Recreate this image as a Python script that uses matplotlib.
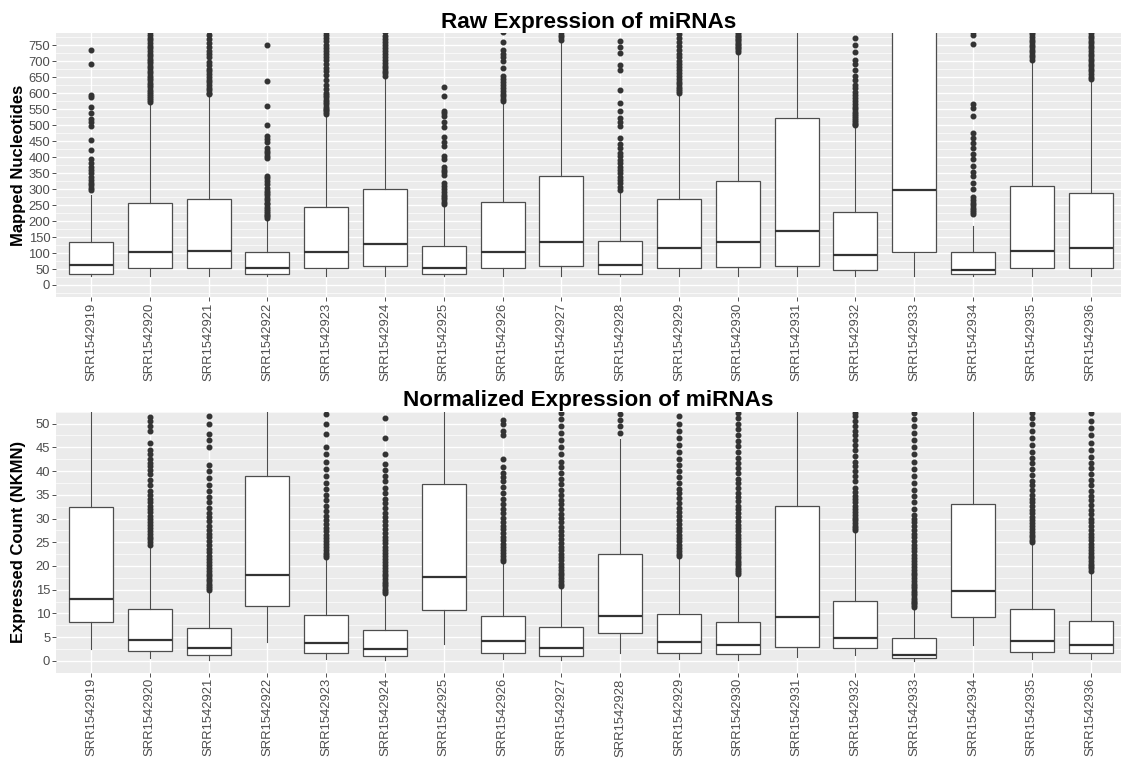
import matplotlib
matplotlib.use("Agg")
import matplotlib.pyplot as plt
from matplotlib.ticker import MultipleLocator

plt.rcParams['font.family'] = ['Liberation Sans', 'DejaVu Sans']

samples = ['SRR1542919', 'SRR1542920', 'SRR1542921', 'SRR1542922', 'SRR1542923', 'SRR1542924',
           'SRR1542925', 'SRR1542926', 'SRR1542927', 'SRR1542928', 'SRR1542929', 'SRR1542930',
           'SRR1542931', 'SRR1542932', 'SRR1542933', 'SRR1542934', 'SRR1542935', 'SRR1542936']

# Raw expression (mapped nucleotides): box statistics
raw_q1 = [34, 52, 52, 34, 52, 60, 34, 52, 58, 34, 52, 57, 60, 46, 104, 34, 52, 52]
raw_med = [62, 102, 105, 52, 102, 129, 52, 102, 136, 62, 117, 133, 170, 94, 297, 46, 107, 115]
raw_q3 = [136, 258, 269, 103, 244, 299, 121, 261, 341, 137, 269, 326, 523, 227, 1000, 102, 310, 288]
raw_lo = [28, 28, 28, 28, 28, 28, 28, 28, 28, 28, 28, 28, 28, 28, 28, 28, 28, 28]
raw_hi = [283, 565, 591, 207, 528, 650, 244, 572, 765, 291, 596, 726, 1217, 497, 2000, 184, 702, 644]
raw_out = [
    [297, 302, 312, 320, 328, 339, 349, 360, 370, 381, 395, 421, 454, 497, 510, 518, 539, 556, 588, 594, 692, 734],
    [572, 578, 584, 590, 597, 603, 610, 618, 625, 632, 640, 648, 655, 662, 670, 678, 685, 693, 700, 708, 716,
     724, 731, 740, 748, 757, 765, 774, 782, 790, 800],
    [596, 602, 609, 617, 625, 634, 642, 651, 660, 668, 677, 688, 699, 712, 722, 733, 745, 757, 770, 783, 795],
    [210, 215, 220, 226, 232, 238, 245, 252, 258, 265, 272, 280, 288, 295, 302, 315, 325, 335, 342, 398, 405,
     412, 420, 428, 446, 458, 466, 500, 561, 637, 750],
    [535, 540, 546, 552, 558, 565, 572, 580, 587, 594, 600, 612, 625, 640, 656, 668, 680, 692, 703, 712, 722,
     732, 742, 752, 762, 772, 782, 792],
    [655, 662, 670, 678, 686, 695, 704, 713, 722, 731, 740, 750, 760, 770, 780, 790],
    [252, 260, 268, 275, 283, 290, 300, 310, 318, 345, 352, 360, 368, 395, 405, 435, 448, 462, 495, 510, 530,
     538, 545, 590, 618],
    [575, 582, 590, 598, 607, 615, 625, 635, 645, 655, 680, 700, 712, 722, 735, 760, 790],
    [768, 775, 782, 790],
    [297, 307, 318, 328, 339, 349, 360, 370, 381, 391, 402, 412, 428, 442, 460, 497, 509, 523, 544, 570, 610,
     673, 689, 725, 746, 762],
    [600, 606, 613, 620, 628, 636, 645, 654, 663, 672, 682, 692, 702, 713, 724, 736, 748, 760, 772, 784, 795],
    [730, 735, 740, 745, 750, 755, 760, 765, 770, 775, 780, 785, 790, 795],
    [],
    [500, 505, 510, 516, 522, 528, 535, 542, 550, 558, 566, 575, 584, 594, 605, 615, 625, 640, 655, 672, 690,
     705, 730, 752, 772],
    [],
    [222, 228, 235, 242, 250, 258, 266, 275, 300, 318, 340, 355, 372, 395, 410, 428, 445, 460, 474, 530, 555,
     567, 754, 783, 790],
    [705, 712, 720, 728, 736, 744, 752, 760, 768, 776, 784, 792],
    [645, 652, 660, 668, 676, 684, 692, 700, 708, 716, 724, 732, 740, 748, 756, 764, 772, 780, 788, 796],
]

# Normalized expression (NKMN)
norm_q1 = [8.1, 2.1, 1.3, 11.5, 1.75, 1.05, 10.7, 1.75, 1.1, 5.8, 1.75, 1.4, 3.0, 2.7, 0.6, 9.2, 1.9, 1.6]
norm_med = [13.1, 4.3, 2.7, 18.2, 3.8, 2.6, 17.7, 4.1, 2.7, 9.5, 3.9, 3.3, 9.3, 4.9, 1.3, 14.8, 4.1, 3.3]
norm_q3 = [32.5, 10.9, 6.9, 39.0, 9.6, 6.5, 37.2, 9.5, 7.1, 22.6, 9.9, 8.1, 32.6, 12.6, 4.8, 33.0, 11.0, 8.5]
norm_lo = [2.5, 0.5, 0.2, 3.9, 0.3, 0.1, 3.6, 0.3, 0.1, 1.6, 0.3, 0.2, 0.9, 1.2, 0.05, 3.4, 0.4, 0.3]
norm_hi = [69, 23.9, 14.9, 80, 21.5, 14.2, 76, 20.9, 15.6, 46.8, 21.8, 18.1, 67, 27.2, 11.1, 68, 24.8, 18.7]
norm_out = [
    [],
    [24.5, 25.0, 25.6, 26.2, 26.8, 27.4, 28.0, 28.6, 29.2, 29.9, 30.6, 31.3, 32.0, 32.7, 33.4, 34.2, 35.0, 35.8,
     37.0, 38.2, 39.3, 40.2, 41.0, 41.8, 42.6, 43.5, 44.5, 46.0, 48.5, 49.5, 50.5, 51.3],
    [15.0, 15.4, 15.8, 16.3, 16.8, 17.3, 17.8, 18.4, 19.0, 19.6, 20.2, 20.8, 21.5, 22.2, 22.9, 23.6, 24.4, 25.2,
     26.0, 26.8, 27.6, 28.5, 29.4, 30.3, 31.2, 32.2, 33.4, 34.6, 35.8, 37.0, 38.5, 40.0, 41.2, 45.0, 46.5, 47.8,
     50.0, 51.5],
    [],
    [21.8, 22.3, 22.8, 23.4, 24.0, 24.6, 25.2, 25.9, 26.6, 27.3, 28.0, 28.8, 29.6, 30.5, 31.5, 32.6, 33.8, 35.0,
     36.2, 37.4, 39.0, 40.5, 42.0, 43.5, 45.0, 47.8, 50.0, 52.0],
    [14.4, 14.8, 15.2, 15.7, 16.2, 16.7, 17.2, 17.8, 18.4, 19.0, 19.6, 20.2, 20.8, 21.4, 22.0, 22.7, 23.4, 24.1,
     24.8, 25.5, 26.2, 27.0, 27.8, 28.6, 29.4, 30.3, 31.2, 32.2, 33.2, 34.2, 35.3, 36.5, 37.8, 39.0, 40.2, 41.5,
     43.5, 47.0, 51.2],
    [],
    [21.0, 21.5, 22.1, 22.7, 23.3, 24.0, 24.7, 25.4, 26.1, 26.9, 27.7, 28.5, 29.3, 30.2, 31.1, 32.0, 33.0, 34.2,
     35.4, 36.6, 37.8, 38.8, 39.6, 40.8, 42.5, 47.5, 48.5, 50.0, 50.8],
    [15.8, 16.3, 16.8, 17.4, 18.0, 18.6, 19.2, 19.8, 20.5, 21.2, 21.9, 22.6, 23.3, 24.1, 24.9, 25.7, 26.5, 27.4,
     28.3, 29.2, 30.1, 31.0, 32.0, 33.0, 34.0, 35.0, 36.0, 37.2, 38.4, 39.6, 40.8, 42.0, 43.5, 45.0, 46.5, 48.0,
     49.5, 51.0, 52.3],
    [48.0, 49.5, 50.8, 52.0],
    [22.0, 22.6, 23.2, 23.8, 24.5, 25.2, 25.9, 26.6, 27.3, 28.1, 28.9, 29.7, 30.5, 31.4, 32.3, 33.3, 34.3, 35.3,
     36.3, 37.5, 38.7, 40.0, 41.2, 42.5, 44.0, 45.5, 47.0, 48.5, 50.0, 51.5],
    [18.3, 18.7, 19.1, 19.6, 20.1, 20.6, 21.1, 21.6, 22.2, 22.8, 23.4, 24.0, 24.6, 25.2, 25.9, 26.6, 27.3, 28.0,
     28.7, 29.5, 30.3, 31.1, 31.9, 32.7, 33.6, 34.5, 35.4, 36.4, 37.4, 38.4, 39.5, 40.6, 41.7, 42.8, 44.0, 45.2,
     46.4, 47.6, 48.8, 50.0, 51.2, 52.2],
    [],
    [27.5, 28.0, 28.5, 29.0, 29.6, 30.2, 30.8, 31.4, 32.0, 32.7, 33.4, 34.1, 34.8, 35.6, 36.5, 38.0, 39.0, 40.0,
     41.0, 42.0, 43.2, 44.5, 45.5, 46.5, 47.5, 48.5, 49.5, 50.5, 51.5, 52.3],
    [11.3, 11.7, 12.1, 12.5, 12.9, 13.3, 13.8, 14.3, 14.8, 15.3, 15.8, 16.3, 16.8, 17.4, 18.0, 18.6, 19.2, 19.8,
     20.4, 21.0, 21.7, 22.4, 23.1, 23.8, 24.5, 25.2, 26.0, 26.8, 27.6, 28.4, 29.2, 30.0, 30.8, 32.0, 33.5, 34.8,
     36.0, 37.5, 39.0, 40.5, 42.0, 43.5, 45.0, 46.5, 48.0, 49.5, 51.0, 52.2],
    [],
    [25.0, 25.5, 26.0, 26.6, 27.2, 27.8, 28.4, 29.0, 29.7, 30.4, 31.1, 31.8, 32.6, 33.4, 34.2, 35.0, 36.0, 37.0,
     38.0, 39.2, 40.4, 41.6, 42.8, 44.0, 45.5, 47.0, 48.5, 50.0, 51.2, 52.2],
    [19.0, 19.5, 20.0, 20.5, 21.0, 21.6, 22.2, 22.8, 23.4, 24.0, 24.7, 25.4, 26.1, 26.8, 27.6, 28.4, 29.2, 30.0,
     30.9, 31.8, 32.8, 33.8, 34.8, 35.8, 37.0, 38.2, 39.4, 40.6, 41.8, 43.0, 44.5, 46.0, 47.5, 49.0, 50.5, 52.2],
]


def make_stats(q1, med, q3, lo, hi, out):
    return [dict(q1=a, med=b, q3=c, whislo=d, whishi=e, fliers=f)
            for a, b, c, d, e, f in zip(q1, med, q3, lo, hi, out)]


def draw_panel(ax, stats, title, ylabel, ylim, major, minor):
    ax.set_facecolor('#EBEBEB')
    ax.bxp(stats, positions=range(1, len(stats) + 1), widths=0.75, patch_artist=True,
           boxprops=dict(facecolor='white', edgecolor='#4D4D4D', linewidth=0.9),
           medianprops=dict(color='#333333', linewidth=1.6),
           whiskerprops=dict(color='#4D4D4D', linewidth=0.8),
           capprops=dict(linewidth=0),
           flierprops=dict(marker='o', markersize=3.3, markerfacecolor='#333333',
                           markeredgecolor='#333333', linestyle='none'))
    ax.set_xlim(0.4, 18.517)
    ax.set_ylim(*ylim)
    ax.yaxis.set_major_locator(MultipleLocator(major))
    ax.yaxis.set_minor_locator(MultipleLocator(minor))
    ax.set_xticks(range(1, len(samples) + 1))
    ax.set_xticklabels(samples, rotation=90)
    ax.grid(True, which='major', color='white', linewidth=1.0)
    ax.grid(True, which='minor', axis='y', color='white', linewidth=0.5)
    ax.set_axisbelow(True)
    for s in ax.spines.values():
        s.set_visible(False)
    ax.tick_params(axis='both', which='major', length=2.75, width=0.6, color='#333333',
                   labelsize=9.4, labelcolor='#4D4D4D', pad=1.2)
    ax.tick_params(axis='y', which='minor', length=0)
    ax.set_title(title, fontsize=16.2, fontweight='bold', pad=4)
    ax.set_ylabel(ylabel, fontsize=12, fontweight='bold')
    ax.yaxis.set_label_coords(-0.028, 0.5)


fig = plt.figure(figsize=(11.21, 7.58), dpi=100)
ax1 = fig.add_axes([0.0497, 0.6082, 0.9503, 0.3479])
ax2 = fig.add_axes([0.0497, 0.1125, 0.9503, 0.3443])

draw_panel(ax1, make_stats(raw_q1, raw_med, raw_q3, raw_lo, raw_hi, raw_out),
           'Raw Expression of miRNAs', 'Mapped Nucleotides', (-37.5, 787.5), 50, 25)
draw_panel(ax2, make_stats(norm_q1, norm_med, norm_q3, norm_lo, norm_hi, norm_out),
           'Normalized Expression of miRNAs', 'Expressed Count (NKMN)', (-2.5, 52.5), 5, 2.5)

fig.savefig('out.png', dpi=100)
